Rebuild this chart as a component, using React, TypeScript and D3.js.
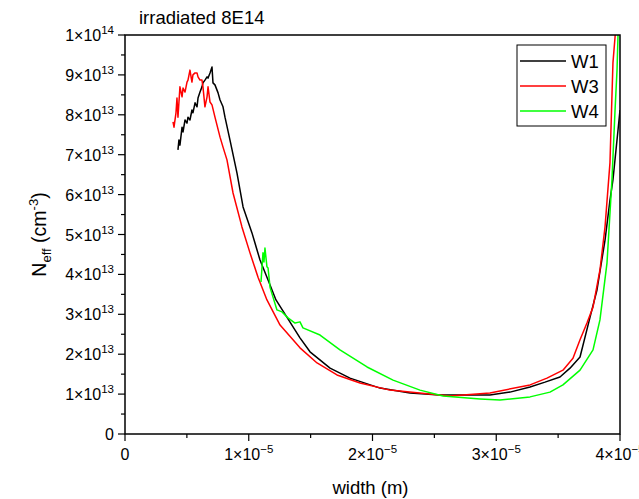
import React, { useEffect } from "react";
import * as d3 from "d3";

// x in units of 1e-6 m, y in units of 1e13 cm^-3
const w1X = [4.28, 4.36, 4.44, 4.61, 4.69, 4.85, 5.01, 5.09, 5.25, 5.41, 5.49, 5.66, 5.82, 5.9, 6.06, 6.22, 6.3, 6.46, 6.63, 6.71, 6.87, 7.03, 7.11, 7.27, 7.52, 7.68, 7.92, 8.08, 8.48, 9.05, 9.54, 10.26, 10.91, 11.56, 12.2, 14.14, 14.95, 16.57, 18.18, 20.61, 23.03, 25.45, 28.69, 29.49, 31.11, 32.73, 33.94, 35.15, 35.96, 36.77, 37.58, 38.14, 38.79, 39.19, 39.43, 39.84, 40.0];
const w1Y = [7.12, 7.37, 7.24, 7.69, 7.57, 7.87, 7.79, 7.94, 7.87, 8.12, 8.05, 8.3, 8.2, 8.42, 8.57, 8.7, 8.8, 8.87, 8.95, 8.92, 9.05, 9.2, 8.8, 8.75, 8.55, 8.37, 8.2, 7.94, 7.37, 6.54, 5.69, 5.04, 4.36, 3.86, 3.36, 2.41, 2.06, 1.65, 1.4, 1.15, 1.03, 0.98, 0.98, 0.98, 1.05, 1.18, 1.3, 1.43, 1.65, 1.93, 2.93, 3.61, 4.86, 5.86, 6.37, 7.62, 8.12];

const w3X = [3.88, 3.96, 4.12, 4.2, 4.28, 4.44, 4.61, 4.69, 4.85, 5.01, 5.09, 5.25, 5.41, 5.49, 5.66, 5.82, 5.9, 6.06, 6.22, 6.3, 6.46, 6.63, 6.71, 6.87, 7.03, 7.27, 7.68, 7.92, 8.24, 8.73, 9.45, 10.1, 10.75, 11.47, 12.53, 14.14, 15.52, 17.13, 18.99, 21.41, 23.8, 26.26, 29.49, 32.73, 34.1, 35.39, 36.2, 36.77, 37.33, 37.82, 38.38, 38.79, 39.19, 39.43, 39.6, 39.7];
const w3Y = [7.82, 7.69, 8.05, 8.42, 7.94, 8.7, 8.45, 8.67, 8.57, 8.82, 8.87, 9.12, 8.82, 9.0, 9.05, 9.05, 8.95, 8.87, 8.87, 8.7, 8.2, 8.45, 8.7, 8.32, 8.25, 7.94, 7.44, 7.19, 6.87, 6.04, 5.19, 4.54, 3.93, 3.36, 2.73, 2.16, 1.78, 1.48, 1.28, 1.1, 1.03, 0.95, 1.03, 1.23, 1.4, 1.6, 1.9, 2.36, 2.78, 3.18, 4.11, 5.19, 6.8, 9.3, 9.95, 10.5];

const w4X = [10.99, 11.15, 11.23, 11.31, 11.47, 11.56, 11.72, 11.96, 12.28, 12.69, 13.17, 13.74, 14.14, 14.38, 15.76, 17.37, 19.56, 21.66, 23.84, 25.7, 28.69, 30.3, 32.73, 34.34, 35.39, 36.77, 37.82, 38.38, 38.95, 39.35, 39.6, 39.76, 39.84, 39.9];
const w4Y = [3.81, 4.54, 4.31, 4.66, 4.19, 4.16, 3.68, 3.43, 3.11, 3.06, 2.91, 2.78, 2.81, 2.66, 2.48, 2.11, 1.68, 1.35, 1.1, 0.95, 0.88, 0.85, 0.93, 1.05, 1.23, 1.6, 2.11, 2.86, 4.29, 6.37, 8.12, 9.12, 10.0, 10.5];

const seriesNames = ["W1", "W3", "W4"];
const seriesColors = ["#000000", "#ff0000", "#00ff00"];
const seriesX = [w1X, w3X, w4X];
const seriesY = [w1Y, w3Y, w4Y];

const xTicks = [0, 10, 20, 30, 40];
const xMinor = [5, 15, 25, 35];
const yTicks = [0, 1, 2, 3, 4, 5, 6, 7, 8, 9, 10];
const yMinor = [0.5, 1.5, 2.5, 3.5, 4.5, 5.5, 6.5, 7.5, 8.5, 9.5];

const W = 639, H = 499;
const L = 125, R = 620, T = 35, B = 434;
const FONT = "'Liberation Sans', Arial, sans-serif";

export default function App() {
  useEffect(() => {
    document.body.style.margin = "0";
  }, []);
  const x = d3.scaleLinear().domain([0, 40]).range([L, R]);
  const y = d3.scaleLinear().domain([0, 10]).range([B, T]);
  const line = d3
    .line<[number, number]>()
    .x((d) => x(d[0]))
    .y((d) => y(d[1]));

  const yLabel = (v: number) => {
    if (v === 0) return <tspan>0</tspan>;
    if (v === 10)
      return (
        <>
          <tspan>1×10</tspan>
          <tspan dy={-7} fontSize={11.5}>14</tspan>
        </>
      );
    return (
      <>
        <tspan>{v}×10</tspan>
        <tspan dy={-7} fontSize={11.5}>13</tspan>
      </>
    );
  };
  const xLabel = (v: number) => {
    if (v === 0) return <tspan>0</tspan>;
    return (
      <>
        <tspan>{v / 10}×10</tspan>
        <tspan dy={-7} fontSize={11.5}>−5</tspan>
      </>
    );
  };

  return (
    <svg width={W} height={H} style={{ position: "absolute", left: 0, top: 0, background: "#fff" }} fontFamily={FONT}>
      <defs>
        <clipPath id="plotclip">
          <rect x={L} y={T} width={R - L} height={B - T} />
        </clipPath>
      </defs>
      <rect x={0} y={0} width={W} height={H} fill="#fff" />
      <g clipPath="url(#plotclip)">
        {seriesX.map((xs, i) => (
          <path
            key={seriesNames[i]}
            d={line(xs.map((v, j) => [v, seriesY[i][j]] as [number, number])) || ""}
            fill="none"
            stroke={seriesColors[i]}
            strokeWidth={1.5}
            strokeLinejoin="round"
          />
        ))}
      </g>
      {/* frame */}
      <rect x={L} y={T} width={R - L} height={B - T} fill="none" stroke="#000" strokeWidth={1.5} />
      {/* y ticks */}
      {yTicks.map((v) => (
        <g key={"yt" + v}>
          <line x1={L - 7} x2={L} y1={y(v)} y2={y(v)} stroke="#000" strokeWidth={1.2} />
          <text x={L - 11} y={y(v) + 6} textAnchor="end" fontSize={16} fill="#000">
            {yLabel(v)}
          </text>
        </g>
      ))}
      {yMinor.map((v) => (
        <line key={"ym" + v} x1={L - 4} x2={L} y1={y(v)} y2={y(v)} stroke="#000" strokeWidth={1.2} />
      ))}
      {/* x ticks */}
      {xTicks.map((v) => (
        <g key={"xt" + v}>
          <line x1={x(v)} x2={x(v)} y1={B} y2={B + 7} stroke="#000" strokeWidth={1.2} />
          <text x={x(v)} y={B + 26} textAnchor="middle" fontSize={16} fill="#000">
            {xLabel(v)}
          </text>
        </g>
      ))}
      {xMinor.map((v) => (
        <line key={"xm" + v} x1={x(v)} x2={x(v)} y1={B} y2={B + 4} stroke="#000" strokeWidth={1.2} />
      ))}
      {/* axis titles */}
      <text x={(L + R) / 2 - 2} y={494} textAnchor="middle" fontSize={18.5} fill="#000">
        width (m)
      </text>
      <text transform={`translate(46, ${(T + B) / 2}) rotate(-90)`} textAnchor="middle" fontSize={19.5} fill="#000">
        <tspan>N</tspan>
        <tspan dy={5} fontSize={13}>eff</tspan>
        <tspan dy={-5}> (cm</tspan>
        <tspan dy={-8} fontSize={13}>-3</tspan>
        <tspan dy={8}>)</tspan>
      </text>
      <text x={139} y={24} fontSize={18.5} fill="#000">
        irradiated 8E14
      </text>
      {/* legend */}
      <rect x={517} y={45} width={89} height={81} fill="#fff" stroke="#000" strokeWidth={1} />
      {seriesNames.map((n, i) => (
        <g key={"lg" + n}>
          <line x1={520} x2={566} y1={61 + i * 25} y2={61 + i * 25} stroke={seriesColors[i]} strokeWidth={1.5} />
          <text x={571} y={61 + i * 25 + 7} fontSize={18.5} fill="#000">
            {n}
          </text>
        </g>
      ))}
    </svg>
  );
}
